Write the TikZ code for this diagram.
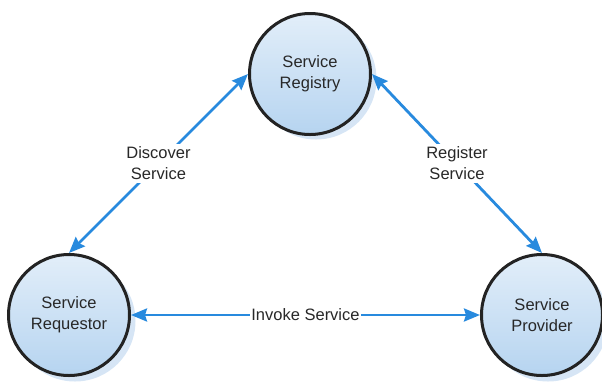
\documentclass[tikz,border=0pt]{standalone}
\usepackage{fontspec}
\setmainfont{Liberation Sans}
\usetikzlibrary{arrows.meta}
\definecolor{linkblue}{RGB}{40,138,222}
\definecolor{ringdark}{RGB}{35,35,35}
\definecolor{fillhi}{RGB}{226,238,249}
\definecolor{filllo}{RGB}{182,212,240}
\definecolor{hazeblue}{RGB}{180,208,236}
\definecolor{textdark}{RGB}{40,40,40}
\begin{document}
\begin{tikzpicture}[x=1pt,y=-1pt,
  role/.style={circle, minimum size=121pt, inner sep=0pt, draw=ringdark, line width=3pt,
    top color=fillhi, bottom color=filllo, align=center, text=textdark,
    font=\fontsize{16.5}{21}\selectfont},
  haze/.style={circle, minimum size=121pt, inner sep=0pt, fill=hazeblue, opacity=0.55},
  link/.style={draw=linkblue, line width=2.8pt,
    {Stealth[length=16pt,width=13pt,inset=2pt]}-{Stealth[length=16pt,width=13pt,inset=2pt]}},
  tag/.style={fill=white, align=center, text=textdark, inner sep=3pt,
    font=\fontsize{16.5}{21}\selectfont}]
\useasboundingbox (0,0) rectangle (602,384);
% soft shadows behind the three roles
\node[haze] at (316,79) {};
\node[haze] at (75,321) {};
\node[haze] at (548,321) {};
% the three roles
\node[role] (reg) at (310,74) {Service\\Registry};
\node[role] (req) at (69,315) {Service\\Requestor};
\node[role] (prov) at (542,315) {Service\\Provider};
% interactions
\draw[link] (reg.west) -- node[tag] {Discover\\Service} (req.north);
\draw[link] (reg.east) -- node[tag] {Register\\Service} (prov.north);
\draw[link] (req.east) -- node[tag, inner sep=1pt] {Invoke Service} (prov.west);
\end{tikzpicture}
\end{document}
